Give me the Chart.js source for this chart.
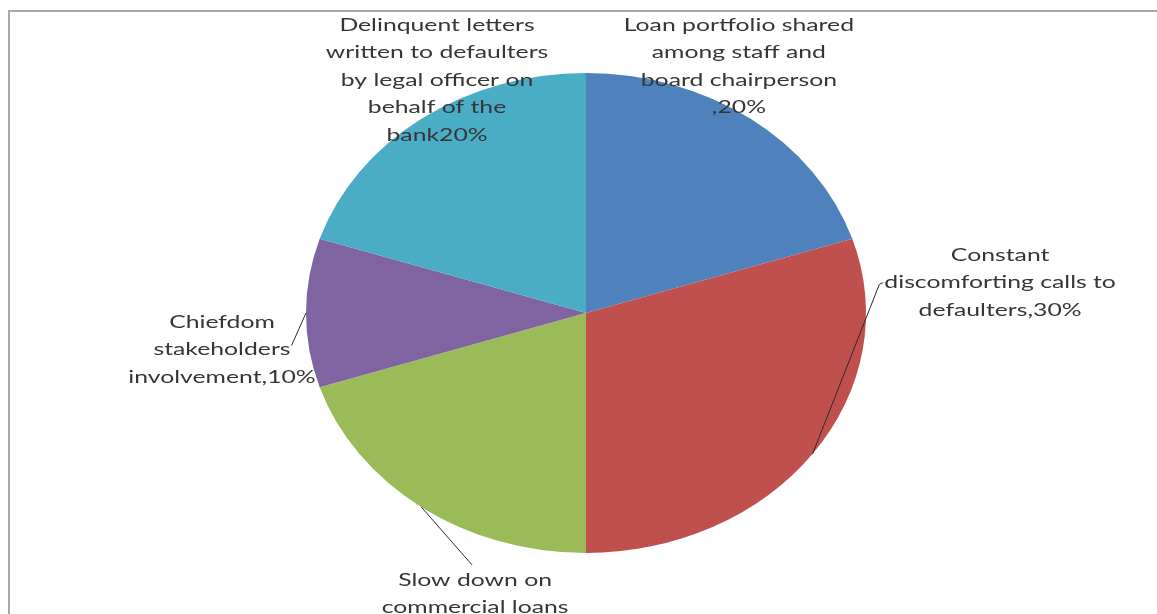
<!DOCTYPE html>
<html lang="en">
<head>
  <meta charset="utf-8">
  <script src="https://cdn.jsdelivr.net/npm/chart.js@4.4.0/dist/chart.umd.min.js"></script>
  <style>
    html, body { margin: 0; padding: 0; background: #fff; overflow: hidden; }
    .frame {
      position: absolute; left: 8px; top: 10px; width: 1300px; height: 800px;
      border-left: 2px solid #a9a9a9; border-top: 2px solid #a9a9a9;
    }
    .chart-box { position: absolute; left: 0; top: 0; width: 1157px; height: 614px; }
  </style>
</head>
<body>
  <div class="frame"></div>
  <div class="chart-box"><canvas id="pie"></canvas></div>

  <script>
    // data
    const categories = [
      'Loan portfolio shared among staff and board chairperson',
      'Constant discomforting calls to defaulters',
      'Slow down on commercial loans',
      'Chiefdom stakeholders involvement',
      'Delinquent letters written to defaulters by legal officer on behalf of the bank'
    ];
    const values = [20, 30, 20, 10, 20];
    const separators = [',', ',', ',', ',', ''];
    // words per label line (0 = value on its own line)
    const wrapWords = [[3, 3, 2, 0], [1, 3, 1], [3, 2, 0], [1, 1, 1], [2, 3, 4, 3, 1]];

    const colors = ['#4f81bd', '#c0504d', '#9bbb59', '#8064a2', '#4bacc6'];

    // label placement, relative to pie centre in units of the x / y radius
    const labelLayout = [
      { dx: 0.546, dy: -1.2, leader: 'none' },
      { dx: 1.479, dy: -0.242, leader: 'left' },
      { dx: -0.396, dy: 1.1125, leader: 'top' },
      { dx: -1.3, dy: 0.0375, leader: 'right' },
      { dx: -0.532, dy: -1.2, leader: 'none' }
    ];

    const stretchX = 280 / 240;   // pie is drawn as an ellipse
    const textStretch = 1.375;
    const lineGap = 27.5;
    const labelFont = '18px Lato';

    function labelLines(i) {
      const words = categories[i].split(' ');
      const lines = [];
      let k = 0;
      wrapWords[i].forEach(n => { lines.push(words.slice(k, k + n).join(' ')); k += n; });
      lines[lines.length - 1] += separators[i] + values[i] + '%';
      return lines;
    }

    const ellipsePlugin = {
      id: 'ellipse',
      beforeDatasetsDraw(chart) {
        const a = chart.chartArea;
        const cx = (a.left + a.right) / 2, cy = (a.top + a.bottom) / 2;
        const ctx = chart.ctx;
        ctx.save();
        ctx.translate(cx, cy);
        ctx.scale(stretchX, 1);
        ctx.translate(-cx, -cy);
      },
      afterDatasetsDraw(chart) {
        chart.ctx.restore();
      }
    };

    const labelPlugin = {
      id: 'pieLabels',
      afterDraw(chart) {
        const ctx = chart.ctx;
        const meta = chart.getDatasetMeta(0);
        ctx.save();
        ctx.font = labelFont;
        ctx.textAlign = 'center';
        ctx.textBaseline = 'middle';
        meta.data.forEach((arc, i) => {
          const p = arc.getProps(['x', 'y', 'startAngle', 'endAngle', 'outerRadius'], true);
          const rx = p.outerRadius * stretchX, ry = p.outerRadius;
          const mid = (p.startAngle + p.endAngle) / 2;
          const ex = p.x + rx * Math.cos(mid), ey = p.y + ry * Math.sin(mid);
          const lay = labelLayout[i];
          const tx = p.x + lay.dx * rx, ty = p.y + lay.dy * ry;
          const lines = labelLines(i);

          // leader line
          if (lay.leader !== 'none') {
            let lx, ly, hx, hy;
            if (lay.leader === 'left') {
              const w = ctx.measureText(lines[1]).width * textStretch;
              hx = tx - w / 2 - 1; hy = ty + lineGap;
              lx = hx - 4; ly = hy + 2;
            } else if (lay.leader === 'right') {
              const w = ctx.measureText(lines[1]).width * textStretch;
              hx = tx + w / 2 + 1; hy = ty + lineGap - 4;
              lx = hx; ly = hy;
            } else {
              hx = tx - 3; hy = ty - 15;
              lx = hx; ly = hy;
            }
            ctx.strokeStyle = '#2b2b2b';
            ctx.lineWidth = 1;
            ctx.beginPath();
            ctx.moveTo(ex, ey);
            ctx.lineTo(lx, ly);
            ctx.lineTo(hx, hy);
            ctx.stroke();
          }

          ctx.fillStyle = '#363636';
          lines.forEach((line, j) => {
            ctx.save();
            ctx.translate(tx, ty + j * lineGap);
            ctx.scale(textStretch, 1);
            ctx.fillText(line, 0, 0);
            ctx.restore();
          });
        });
        ctx.restore();
      }
    };

    new Chart(document.getElementById('pie'), {
      type: 'pie',
      data: {
        labels: categories,
        datasets: [{
          data: values,
          backgroundColor: colors,
          borderWidth: 0
        }]
      },
      options: {
        responsive: true,
        maintainAspectRatio: false,
        animation: false,
        layout: { padding: { left: 300, right: 285, top: 73, bottom: 61 } },
        plugins: {
          legend: { display: false },
          tooltip: { enabled: false }
        }
      },
      plugins: [ellipsePlugin, labelPlugin]
    });
  </script>
</body>
</html>
